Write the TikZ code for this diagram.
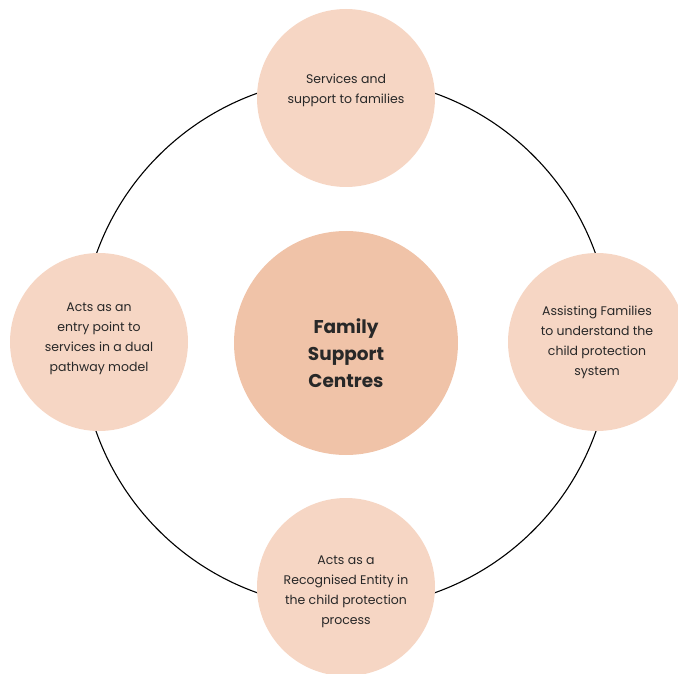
\documentclass[tikz,border=0pt]{standalone}
\usepackage{fontspec}
\setmainfont{Poppins}
\usepackage{tikz}

\tikzset{
  topic/.style={circle, fill=topicfill, minimum size=178pt, inner sep=0pt},
  topictext/.style={align=center, text=textgrey, inner sep=0pt,
    font=\fontsize{12.5}{20}\selectfont},
  hub/.style={circle, fill=hubfill, minimum size=224pt, inner sep=0pt},
  hubtext/.style={align=center, text=textgrey, inner sep=0pt,
    font=\fontsize{18.5}{27}\selectfont\bfseries}
}

\begin{document}
\begin{tikzpicture}[x=1pt, y=-1pt]
        % Define colors for the circles
        \definecolor{topicfill}{RGB}{246, 214, 196} % Light peach
        \definecolor{hubfill}{RGB}{240, 195, 168} % Darker peach
        \definecolor{textgrey}{RGB}{40, 40, 40} % Text colour

        % Fix the frame of the picture
        \useasboundingbox (0,0) rectangle (678,674);
        \clip (0,0) rectangle (678,674);

        % Draw central node
        \node[hub, label={[hubtext, yshift=-10pt]center:{Family\\Support\\Centres}}] (centres) at (346,343) {};

        % Draw ring behind the outer nodes
        \draw[black, line width=1.1pt] (centres.center) circle (265);

        % Draw outer nodes
        \node[topic, label={[topictext, yshift=8pt]center:{Services and\\support to families}}] (services) at (346,98) {}; % Top
        \node[topic, label={[topictext, yshift=0pt]center:{Assisting Families\\to understand the\\child protection\\system}}] (assisting) at (597,342) {}; % Right
        \node[topic, label={[topictext, yshift=-5pt]center:{Acts as a\\Recognised Entity in\\the child protection\\process}}] (entity) at (346,587) {}; % Bottom
        \node[topic, label={[topictext, yshift=3pt]center:{Acts as an\\entry point to\\services in a dual\\pathway model}}] (entry) at (99,342) {}; % Left
\end{tikzpicture}
\end{document}
